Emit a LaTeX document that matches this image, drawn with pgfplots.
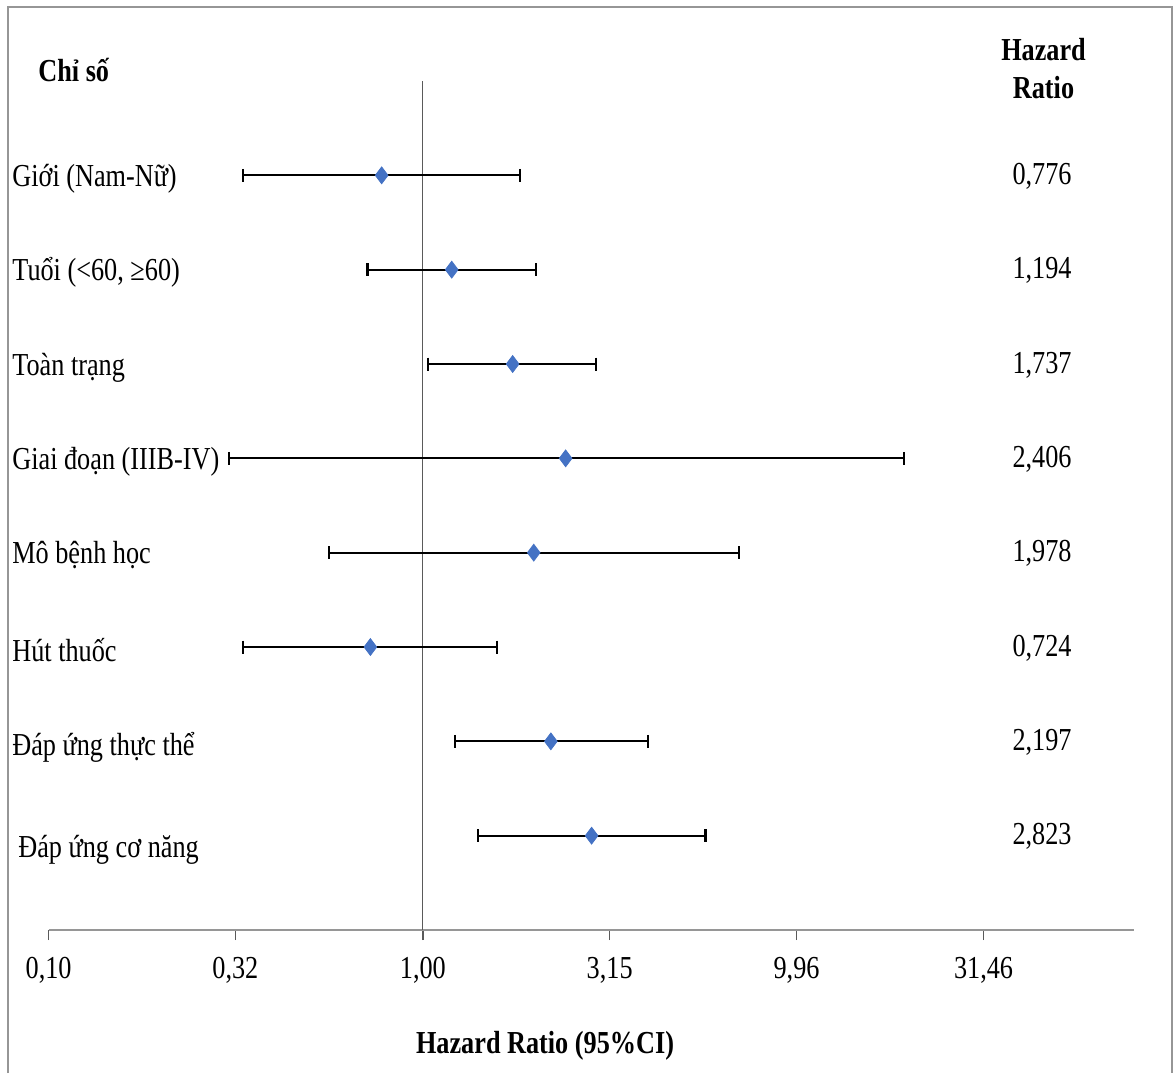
\documentclass[border=0pt]{standalone}
\usepackage{pgfplots}
\pgfplotsset{compat=1.18}
\usepackage{fontspec}
\setmainfont{Liberation Serif}[FakeStretch=0.82]
\definecolor{diam}{RGB}{68,114,196}
\definecolor{axgray}{RGB}{150,150,150}
\definecolor{vgray}{RGB}{90,90,90}
\newcommand\fs{\fontsize{16pt}{19pt}\selectfont}
\begin{document}
\begin{tikzpicture}[font=\fs]
\useasboundingbox (-24.3pt,-71.5pt) rectangle (563.7pt,465pt);
\draw[axgray, line width=1pt] (-20.3pt,-71.5pt) -- (-20.3pt,461.5pt) -- (561.7pt,461.5pt) -- (561.7pt,-71.5pt);
\begin{axis}[
  at={(0,0)}, anchor=south west,
  scale only axis, width=542.7pt, height=424.5pt,
  xmode=log, xmin=0.1, xmax=79.4, ymin=0, ymax=9,
  axis x line=bottom, axis y line=none,
  axis line style={-, axgray, line width=1pt},
  xtick={0.1,0.3155,1,3.155,9.96,31.46},
  xticklabels={{0,10},{0,32},{1,00},{3,15},{9,96},{31,46}},
  xminorticks=false,
  tick align=outside, major tick length=5pt,
  xtick style={vgray, line width=0.6pt},
  xticklabel style={font=\fs, anchor=base, yshift=-19pt, inner sep=0pt},
  ytick=\empty, clip=false,
]
% reference line at HR = 1
\addplot[vgray, line width=0.5pt] coordinates {(1,0) (1,9)};
% confidence intervals
\addplot[black, line width=1.1pt, mark=|, mark size=3.25pt] coordinates {(0.331,8) (1.82,8)};
\addplot[black, line width=1.1pt, mark=|, mark size=3.25pt] coordinates {(0.711,7) (2.01,7)};
\addplot[black, line width=1.1pt, mark=|, mark size=3.25pt] coordinates {(1.03,6) (2.90,6)};
\addplot[black, line width=1.1pt, mark=|, mark size=3.25pt] coordinates {(0.303,5) (19.3,5)};
\addplot[black, line width=1.1pt, mark=|, mark size=3.25pt] coordinates {(0.561,4) (6.99,4)};
\addplot[black, line width=1.1pt, mark=|, mark size=3.25pt] coordinates {(0.331,3) (1.58,3)};
\addplot[black, line width=1.1pt, mark=|, mark size=3.25pt] coordinates {(1.22,2) (4.00,2)};
\addplot[black, line width=1.1pt, mark=|, mark size=3.25pt] coordinates {(1.40,1) (5.69,1)};
% point estimates
\addplot[only marks, mark=diamond*, mark size=4.2pt, color=diam] coordinates {
(0.776,8) (1.194,7) (1.737,6) (2.406,5) (1.978,4) (0.724,3) (2.197,2) (2.823,1)};
% row labels
\begin{scope}[every node/.style={anchor=base west, inner sep=0pt}]
\node at ([xshift=-18.3pt,yshift=-5.5pt]axis cs:0.1,8) {Giới (Nam-Nữ)};
\node at ([xshift=-18.3pt,yshift=-5.5pt]axis cs:0.1,7) {Tuổi (<60, ≥60)};
\node at ([xshift=-18.3pt,yshift=-5.5pt]axis cs:0.1,6) {Toàn trạng};
\node at ([xshift=-18.3pt,yshift=-5.5pt]axis cs:0.1,5) {Giai đoạn (IIIB-IV)};
\node at ([xshift=-18.3pt,yshift=-5.5pt]axis cs:0.1,4) {Mô bệnh học};
\node at ([xshift=-18.3pt,yshift=-7pt]axis cs:0.1,3) {Hút thuốc};
\node at ([xshift=-18.3pt,yshift=-7pt]axis cs:0.1,2) {Đáp ứng thực thể};
\node at ([xshift=-15.3pt,yshift=-11pt]axis cs:0.1,1) {Đáp ứng cơ năng};
\node at ([xshift=-5.3pt]axis cs:0.1,8.99) {\bfseries Chỉ số};
\end{scope}
% HR values
\begin{scope}[every node/.style={anchor=base, inner sep=0pt}]
\node at ([yshift=-4.5pt]axis cs:45.1,8) {0,776};
\node at ([yshift=-4.5pt]axis cs:45.1,7) {1,194};
\node at ([yshift=-4.5pt]axis cs:45.1,6) {1,737};
\node at ([yshift=-4.5pt]axis cs:45.1,5) {2,406};
\node at ([yshift=-4.5pt]axis cs:45.1,4) {1,978};
\node at ([yshift=-4.5pt]axis cs:45.1,3) {0,724};
\node at ([yshift=-4.5pt]axis cs:45.1,2) {2,197};
\node at ([yshift=-4.5pt]axis cs:45.1,1) {2,823};
\node at (axis cs:45.5,9.215) {\bfseries Hazard};
\node at (axis cs:45.5,8.815) {\bfseries Ratio};
\node at (axis cs:2.12,-1.31) {\bfseries Hazard Ratio (95\%CI)};
\end{scope}
\end{axis}
\end{tikzpicture}
\end{document}
